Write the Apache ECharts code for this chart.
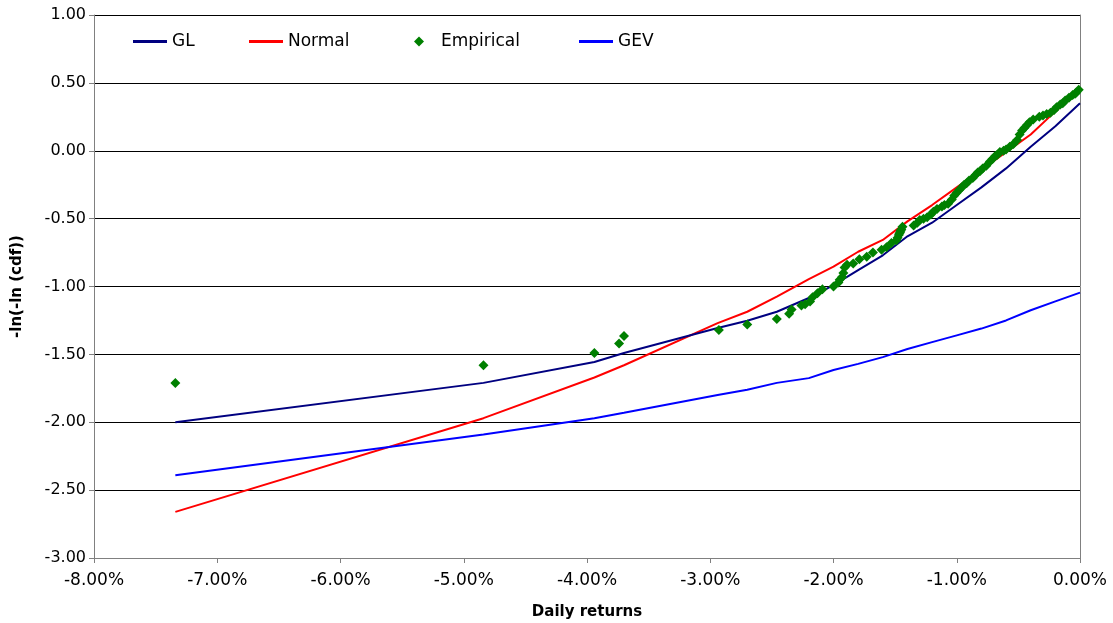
<!DOCTYPE html>
<html><head><meta charset="utf-8">
<script src="https://cdn.jsdelivr.net/npm/echarts@6/dist/echarts.min.js"></script>
<style>html,body{margin:0;padding:0;background:#fff}#c{width:1113px;height:623px}</style>
</head><body><div id="c"></div>
<script>
// x values in percent
const curveX = [-7.34,-4.84,-3.94,-3.70,-2.94,-2.70,-2.46,-2.20,-2.00,-1.80,-1.60,-1.40,-1.20,-1.00,-0.80,-0.60,-0.40,-0.20,0.00];
const glY     = [-2.00,-1.71,-1.556,-1.49,-1.306,-1.252,-1.186,-1.085,-0.99,-0.88,-0.77,-0.63,-0.53,-0.40,-0.27,-0.13,0.03,0.18,0.35];
const normalY = [-2.66,-1.97,-1.67,-1.58,-1.27,-1.186,-1.075,-0.945,-0.854,-0.744,-0.657,-0.52,-0.40,-0.27,-0.14,-0.01,0.12,0.29,0.45];
const gevY    = [-2.39,-2.09,-1.97,-1.93,-1.80,-1.76,-1.71,-1.675,-1.615,-1.57,-1.52,-1.46,-1.41,-1.36,-1.31,-1.25,-1.175,-1.11,-1.045];
const empX = [-7.34,-4.84,-3.94,-3.74,-3.70,-2.93,-2.70,-2.46,-2.36,-2.34,-2.26,-2.23,-2.19,-2.17,-2.13,-2.09,-2.00,-1.96,-1.95,-1.93,-1.92,-1.91,-1.89,-1.84,-1.79,-1.73,-1.68,-1.61,-1.57,-1.53,-1.49,-1.48,-1.47,-1.465,-1.46,-1.455,-1.45,-1.44,
  -1.35,-1.32,-1.30,-1.27,-1.24,-1.21,-1.19,-1.16,-1.12,-1.10,-1.07,-1.04,-1.02,-1.00,-0.98,-0.96,-0.94,-0.92,-0.90,-0.87,-0.85,-0.83,-0.81,-0.79,-0.76,-0.73,-0.71,-0.69,-0.67,-0.65,-0.62,-0.60,-0.57,-0.54,-0.51,-0.49,-0.47,-0.45,-0.43,-0.41,-0.38,-0.33,-0.30,-0.27,-0.24,-0.21,-0.19,-0.16,-0.14,-0.12,-0.09,-0.06,-0.04,-0.03,-0.01];
const empY = [-1.71,-1.58,-1.49,-1.42,-1.365,-1.32,-1.28,-1.24,-1.20,-1.17,-1.14,-1.13,-1.11,-1.08,-1.05,-1.02,-1.00,-0.97,-0.95,-0.93,-0.90,-0.86,-0.84,-0.83,-0.80,-0.78,-0.75,-0.73,-0.71,-0.68,-0.66,-0.64,-0.62,-0.61,-0.60,-0.59,-0.58,-0.56,
  -0.55,-0.53,-0.51,-0.50,-0.49,-0.47,-0.45,-0.43,-0.41,-0.40,-0.39,-0.36,-0.33,-0.31,-0.29,-0.27,-0.25,-0.24,-0.22,-0.20,-0.18,-0.16,-0.15,-0.13,-0.11,-0.08,-0.06,-0.04,-0.03,-0.01,0.00,0.01,0.03,0.05,0.08,0.12,0.15,0.17,0.19,0.21,0.23,0.25,0.26,0.27,0.28,0.30,0.32,0.34,0.35,0.37,0.39,0.41,0.42,0.43,0.45];
const seriesNames = ['GL','Normal','Empirical','GEV'];
const xTitle = 'Daily returns';
const yTitle = '-ln(-ln (cdf))';

const zip = (xs, ys) => xs.map((x, i) => [x, ys[i]]);
const font = 'DejaVu Sans, Verdana, sans-serif';
const chart = echarts.init(document.getElementById('c'), null, {renderer: 'canvas'});
const legendBase = {top: 28, itemWidth: 34, itemHeight: 3, itemGap: 5,
  textStyle: {fontFamily: font, fontSize: 17, color: '#000'}, icon: 'rect'};
chart.setOption({
  animation: false,
  backgroundColor: '#fff',
  grid: {left: 94, right: 33, top: 15, bottom: 65, outerBoundsMode: 'none', containLabel: false},
  legend: [
    Object.assign({}, legendBase, {left: 128, data: [seriesNames[0]]}),
    Object.assign({}, legendBase, {left: 244, data: [seriesNames[1]]}),
    Object.assign({}, legendBase, {left: 409, itemWidth: 10, itemHeight: 10, icon: 'diamond',
      textStyle: {fontFamily: font, fontSize: 17, color: '#000', padding: [0, 0, 0, 12]},
      data: [seriesNames[2]]}),
    Object.assign({}, legendBase, {left: 574, data: [seriesNames[3]]})
  ],
  xAxis: {
    type: 'value', min: -8, max: 0, interval: 1,
    name: xTitle, nameLocation: 'middle', nameGap: 47,
    nameTextStyle: {fontFamily: font, fontSize: 15, fontWeight: 'bold', color: '#000'},
    axisLine: {onZero: false, lineStyle: {color: '#808080', width: 1}},
    axisTick: {show: true, length: 5, lineStyle: {color: '#808080'}},
    axisLabel: {fontFamily: font, fontSize: 17, color: '#000', margin: 14,
      formatter: v => v.toFixed(2) + '%'},
    splitLine: {show: false}
  },
  yAxis: [{
    type: 'value', min: -3, max: 1, interval: 0.5,
    name: yTitle, nameLocation: 'middle', nameGap: 69, nameRotate: 90,
    nameTextStyle: {fontFamily: font, fontSize: 15, fontWeight: 'bold', color: '#000'},
    axisLine: {show: true, onZero: false, lineStyle: {color: '#808080', width: 1}},
    axisTick: {show: true, length: 5, lineStyle: {color: '#808080'}},
    axisLabel: {fontFamily: font, fontSize: 16, color: '#000', margin: 8,
      formatter: v => v.toFixed(2)},
    splitLine: {show: true, lineStyle: {color: '#000', width: 1}}
  }, {
    type: 'value', min: -3, max: 1, interval: 0.5, position: 'right',
    axisLine: {show: true, onZero: false, lineStyle: {color: '#808080', width: 1}},
    axisTick: {show: false}, axisLabel: {show: false}, splitLine: {show: false}
  }],
  series: [
    {name: seriesNames[0], type: 'line', data: zip(curveX, glY), showSymbol: false, symbol: 'none',
      lineStyle: {color: '#000080', width: 2}, itemStyle: {color: '#000080'}, z: 3},
    {name: seriesNames[1], type: 'line', data: zip(curveX, normalY), showSymbol: false, symbol: 'none',
      lineStyle: {color: '#FF0000', width: 2}, itemStyle: {color: '#FF0000'}, z: 2},
    {name: seriesNames[2], type: 'scatter', data: zip(empX, empY), symbol: 'diamond', symbolSize: 10,
      itemStyle: {color: '#008000', opacity: 1}, z: 4},
    {name: seriesNames[3], type: 'line', data: zip(curveX, gevY), showSymbol: false, symbol: 'none',
      lineStyle: {color: '#0000FF', width: 2}, itemStyle: {color: '#0000FF'}, z: 2}
  ]
});
</script></body></html>
